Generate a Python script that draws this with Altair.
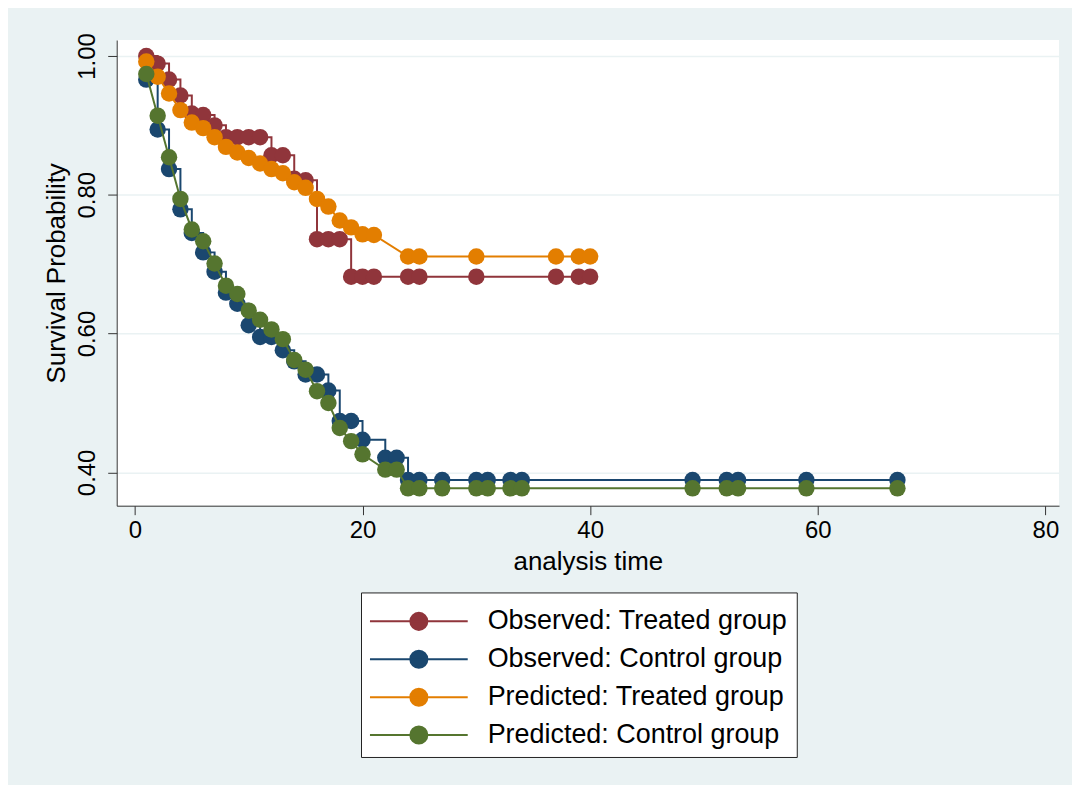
import altair as alt
import pandas as pd

# ---------------- data ----------------
series_names = [
    "Observed: Treated group",
    "Observed: Control group",
    "Predicted: Treated group",
    "Predicted: Control group",
]
series_colors = ["#90353B", "#1A476F", "#E37E00", "#55752F"]

treated_time = [1, 2, 3, 4, 5, 6, 7, 8, 9, 10, 11, 12, 13, 14, 15, 16, 17, 18, 19, 20,
                21, 24, 25, 30, 37, 39, 40]
obs_treated = [1.000, 0.989, 0.966, 0.943, 0.917, 0.915, 0.900, 0.883, 0.883, 0.883,
               0.883, 0.857, 0.857, 0.823, 0.821, 0.736, 0.736, 0.736, 0.682, 0.682,
               0.682, 0.682, 0.682, 0.682, 0.682, 0.682, 0.682]
pred_treated = [0.992, 0.970, 0.946, 0.922, 0.904, 0.896, 0.883, 0.869, 0.861, 0.853,
                0.845, 0.837, 0.831, 0.818, 0.810, 0.794, 0.783, 0.763, 0.753, 0.743,
                0.742, 0.711, 0.711, 0.711, 0.711, 0.711, 0.711]

control_time = [1, 2, 3, 4, 5, 6, 7, 8, 9, 10, 11, 12, 13, 14, 15, 16, 17, 18, 19, 20,
                22, 23, 24, 25, 27, 30, 31, 33, 34, 49, 52, 53, 59, 67]
obs_control = [0.966, 0.894, 0.837, 0.779, 0.745, 0.717, 0.689, 0.659, 0.643, 0.612,
               0.595, 0.595, 0.576, 0.560, 0.541, 0.541, 0.518, 0.474, 0.474, 0.447,
               0.421, 0.421, 0.389, 0.389, 0.389, 0.389, 0.389, 0.389, 0.389, 0.389,
               0.389, 0.389, 0.389, 0.389]
pred_control = [0.974, 0.914, 0.854, 0.794, 0.750, 0.733, 0.701, 0.669, 0.657, 0.633,
                0.620, 0.606, 0.592, 0.562, 0.548, 0.517, 0.500, 0.464, 0.445, 0.426,
                0.404, 0.404, 0.377, 0.377, 0.377, 0.377, 0.377, 0.377, 0.377, 0.377,
                0.377, 0.377, 0.377, 0.377]

x_ticks = [0, 20, 40, 60, 80]
y_ticks = [0.40, 0.60, 0.80, 1.00]

# ---------------- build chart ----------------
series_data = [
    (series_names[0], treated_time, obs_treated, "step-after"),
    (series_names[1], control_time, obs_control, "step-after"),
    (series_names[2], treated_time, pred_treated, "linear"),
    (series_names[3], control_time, pred_control, "linear"),
]

FONT = "Liberation Sans"
BG = "#EAF2F3"

# legend symbol: a horizontal line with a dot in the middle
legend_path = ("M -2.58 0 L 2.58 0 "
               "M 0.45 0 A 0.45 0.45 0 1 1 -0.45 0 A 0.45 0.45 0 1 1 0.45 0 Z")

x_enc = alt.X(
    "time:Q",
    scale=alt.Scale(domain=[-1.6, 81.2], nice=False, zero=False),
    axis=alt.Axis(
        values=x_ticks, title="analysis time", grid=False,
        tickSize=9, tickColor="#333333", domainColor="#333333",
        labelFontSize=24, titleFontSize=26, labelPadding=4, titlePadding=6,
        labelColor="black", titleColor="black", titleFontWeight="normal",
    ),
)
y_enc = alt.Y(
    "surv:Q",
    scale=alt.Scale(domain=[0.352, 1.023], nice=False, zero=False),
    axis=alt.Axis(
        values=y_ticks, format=".2f", title="Survival Probability",
        grid=True, gridColor=BG, gridWidth=1.5,
        tickSize=9, tickColor="#333333", domainColor="#333333",
        labelAngle=270, labelAlign="center", labelBaseline="bottom",
        labelFontSize=24, titleFontSize=26, labelPadding=8, titlePadding=6,
        labelColor="black", titleColor="black", titleFontWeight="normal",
    ),
)
color_enc = alt.Color(
    "series:N",
    scale=alt.Scale(domain=series_names, range=series_colors),
    legend=alt.Legend(
        title=None, orient="none", legendX=245, legendY=554, direction="vertical",
        symbolType=legend_path, symbolSize=1444, symbolStrokeWidth=2,
        symbolOffset=29, labelOffset=49, rowPadding=5, symbolOpacity=1,
        labelFontSize=27, labelFont=FONT, labelColor="black", labelLimit=500,
        padding=9, strokeColor="#222222", fillColor="white",
    ),
)

layers = []
for name, times, surv, interp in series_data:
    df = pd.DataFrame({"time": times, "surv": surv, "series": name})
    base = alt.Chart(df).encode(x=x_enc, y=y_enc, color=color_enc)
    layers.append(base.mark_line(interpolate=interp, strokeWidth=2))
    layers.append(base.mark_circle(size=272, opacity=1))

chart = alt.layer(*layers).properties(
    width=945,
    height=467,
    background=BG,
    padding={"left": 109, "top": 31, "right": 13, "bottom": 279},
    autosize=alt.AutoSizeParams(type="none"),
).configure_view(
    fill="white", stroke=None
).configure_axis(
    labelFont=FONT, titleFont=FONT
)

chart.save("out.html", embed_options={"renderer": "svg", "actions": False})
